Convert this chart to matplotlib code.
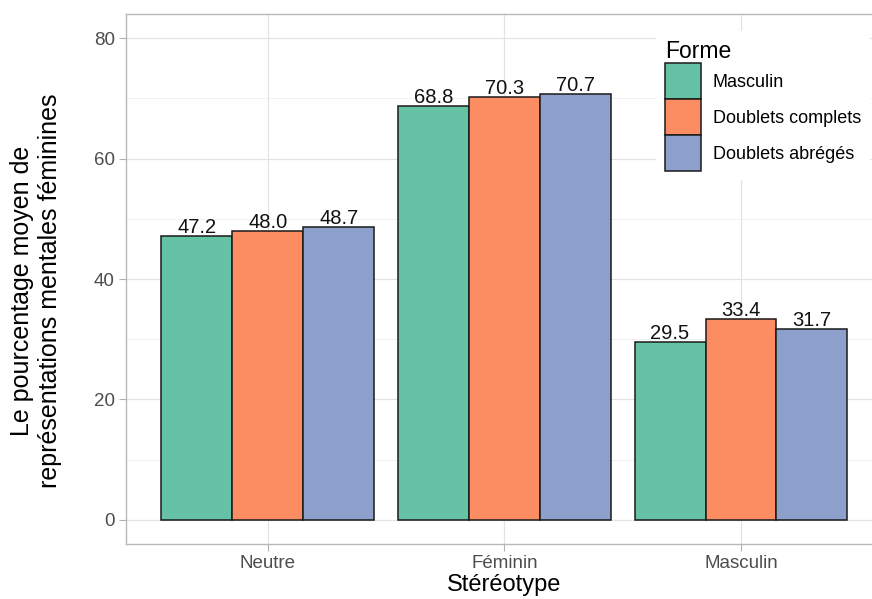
import matplotlib.pyplot as plt
from matplotlib.ticker import MultipleLocator
import numpy as np

plt.rcParams['font.family'] = ['Liberation Sans', 'DejaVu Sans']

# data
stereotypes = ['Neutre', 'Féminin', 'Masculin']
formes = ['Masculin', 'Doublets complets', 'Doublets abrégés']
val_masculin = [47.2, 68.8, 29.5]
val_complets = [48.0, 70.3, 33.4]
val_abreges = [48.7, 70.7, 31.7]

colors = ['#66C2A5', '#FC8D62', '#8DA0CB']

fig = plt.figure(figsize=(8.72, 5.99), dpi=100)
ax = fig.add_axes([0.1445, 0.0918, 0.868, 0.8848])

x = np.arange(1, len(stereotypes) + 1)
w = 0.3
series = [val_masculin, val_complets, val_abreges]
for i, (vals, c, name) in enumerate(zip(series, colors, formes)):
    pos = x + (i - 1) * w
    ax.bar(pos, vals, width=w, color=c, edgecolor='#1a1a1a', linewidth=1.1,
           label=name, zorder=3)
    for px, v in zip(pos, vals):
        ax.text(px, v + 0.5, f'{v:.1f}', ha='center', va='baseline',
                fontsize=14.5, color='#111111', zorder=4)

ax.set_xlim(0.4, 3.6)
ax.set_ylim(-4, 84)
ax.set_xticks(x)
ax.set_xticklabels(stereotypes)
ax.yaxis.set_major_locator(MultipleLocator(20))
ax.yaxis.set_minor_locator(MultipleLocator(10))

ax.grid(which='major', color='#E3E3E3', linewidth=0.9, zorder=0)
ax.grid(which='minor', axis='y', color='#EFEFEF', linewidth=0.6, zorder=0)
ax.set_axisbelow(True)

for s in ax.spines.values():
    s.set_color('#B8B8B8')
    s.set_linewidth(1.0)

ax.tick_params(which='major', length=5, width=0.8, color='#B3B3B3',
               labelsize=13.5, labelcolor='#4D4D4D', pad=3)
ax.tick_params(which='minor', length=0)

fig.text(504 / 872, 0.014, 'Stéréotype', ha='center', va='baseline',
         fontsize=17, color='black')
fig.text(36 / 872, 0.514,
         'Le pourcentage moyen de\nreprésentations mentales féminines',
         ha='center', va='center', rotation=90, fontsize=18,
         color='black', linespacing=1.2)

leg = ax.legend(loc='upper left', bbox_to_anchor=(647 / 872, 1 - 22 / 599),
                bbox_transform=fig.transFigure, title='Forme',
                fontsize=13, title_fontsize=16.5, handlelength=2.0,
                handleheight=2.7, labelspacing=0, handletextpad=0.65,
                borderpad=0.5, frameon=True, fancybox=False,
                framealpha=1, edgecolor='none', facecolor='white',
                alignment='left')
leg.set_zorder(5)

fig.savefig('out.png', dpi=100)
